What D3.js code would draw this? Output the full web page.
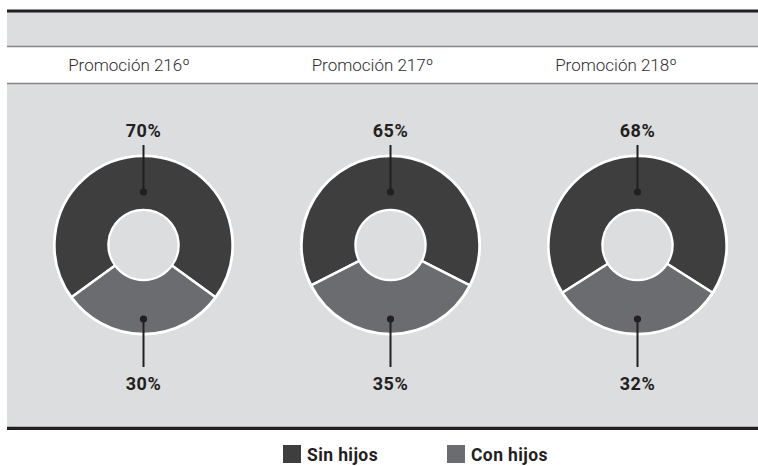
<!DOCTYPE html>
<html>
<head>
<meta charset="utf-8">
<script src="https://cdn.jsdelivr.net/npm/d3@7/dist/d3.min.js"></script>
<style>
  html, body { margin: 0; padding: 0; background: #ffffff; }
  svg { display: block; }
</style>
</head>
<body>
<svg id="chart" width="758" height="466"></svg>
<script>
// ---- data ----
const categories = ["Promoción 216º", "Promoción 217º", "Promoción 218º"];
const series = ["Sin hijos", "Con hijos"];
const sinHijos = [70, 65, 68];
const conHijos = [30, 35, 32];

// ---- styles ----
const colors = { "Sin hijos": "#3e3e3f", "Con hijos": "#6b6c70" };
const bg = "#dcdddf";
const ink = "#231f20";

const W = 758, H = 466;
const svg = d3.select("#chart");

const left = 7, right = W;
// bands
svg.append("rect").attr("x", left).attr("y", 12).attr("width", right - left).attr("height", 34).attr("fill", bg);
svg.append("rect").attr("x", left).attr("y", 84).attr("width", right - left).attr("height", 342).attr("fill", bg);
svg.append("line").attr("x1", left).attr("x2", right).attr("y1", 11).attr("y2", 11).attr("stroke", ink).attr("stroke-width", 3);
svg.append("line").attr("x1", left).attr("x2", right).attr("y1", 46.5).attr("y2", 46.5).attr("stroke", "#858585").attr("stroke-width", 1.5);
svg.append("line").attr("x1", left).attr("x2", right).attr("y1", 83.5).attr("y2", 83.5).attr("stroke", "#858585").attr("stroke-width", 1.5);
svg.append("line").attr("x1", left).attr("x2", right).attr("y1", 426.5).attr("y2", 426.5).attr("stroke", "#b0b0b0").attr("stroke-width", 1);
svg.append("line").attr("x1", left).attr("x2", right).attr("y1", 428.5).attr("y2", 428.5).attr("stroke", ink).attr("stroke-width", 3);

const x = d3.scalePoint().domain(categories).range([143.5, 637.5]);
const xHead = d3.scalePoint().domain(categories).range([129, 616]);
const cy = 245;
const rOuter = 89, rInner = 35;

// header labels
svg.selectAll("text.head").data(categories).join("text")
  .attr("class", "head")
  .attr("x", d => xHead(d))
  .attr("y", 71)
  .attr("text-anchor", "middle")
  .attr("font-family", "Roboto, sans-serif")
  .attr("font-weight", 300)
  .attr("font-size", 17)
  .attr("fill", "#2e2e2e")
  .text(d => d);

const arc = d3.arc().innerRadius(rInner).outerRadius(rOuter);

categories.forEach((c, i) => {
  const vals = [
    { key: "Sin hijos", value: sinHijos[i] },
    { key: "Con hijos", value: conHijos[i] }
  ];
  const frac = sinHijos[i] / (sinHijos[i] + conHijos[i]);
  const pie = d3.pie().sort(null).value(d => d.value)
    .startAngle(-frac * Math.PI).endAngle(2 * Math.PI - frac * Math.PI);
  const arcs = pie(vals);
  const g = svg.append("g").attr("transform", `translate(${x(c)},${cy})`);

  g.append("circle").attr("r", rOuter + 1.5).attr("fill", "#ffffff");
  g.selectAll("path").data(arcs).join("path")
    .attr("d", arc)
    .attr("fill", d => colors[d.data.key])
    .attr("stroke", "#ffffff")
    .attr("stroke-width", 2.5)
    .attr("stroke-linejoin", "round");
  g.append("circle").attr("r", rInner - 1).attr("fill", bg);

  const a0 = (arcs[0].startAngle + arcs[0].endAngle) / 2;
  const a1 = (arcs[1].startAngle + arcs[1].endAngle) / 2;
  const pt = (a, r) => [Math.sin(a) * r, -Math.cos(a) * r];
  const d0 = pt(a0, 53), d0e = pt(a0, 100);
  const d1 = pt(a1, 74), d1e = pt(a1, 122);

  g.append("line").attr("x1", d0[0]).attr("y1", d0[1]).attr("x2", d0e[0]).attr("y2", d0e[1])
    .attr("stroke", ink).attr("stroke-width", 2);
  g.append("circle").attr("cx", d0[0]).attr("cy", d0[1]).attr("r", 3.6).attr("fill", ink);
  g.append("line").attr("x1", d1[0]).attr("y1", d1[1]).attr("x2", d1e[0]).attr("y2", d1e[1])
    .attr("stroke", ink).attr("stroke-width", 2);
  g.append("circle").attr("cx", d1[0]).attr("cy", d1[1]).attr("r", 3.6).attr("fill", ink);

  const lab0 = pt(a0, 108), lab1 = pt(a1, 144.5);
  g.append("text").attr("x", lab0[0]).attr("y", lab0[1])
    .attr("text-anchor", "middle").attr("font-family", "Roboto, sans-serif")
    .attr("font-weight", 700).attr("font-size", 18).attr("fill", ink)
    .attr("letter-spacing", 0.5)
    .text(sinHijos[i] + "%");
  g.append("text").attr("x", lab1[0]).attr("y", lab1[1])
    .attr("text-anchor", "middle").attr("font-family", "Roboto, sans-serif")
    .attr("font-weight", 700).attr("font-size", 18).attr("fill", ink)
    .attr("letter-spacing", 0.5)
    .text(conHijos[i] + "%");
});

// legend
const legendX = d3.scalePoint().domain(series).range([283, 447]);
const lg = svg.selectAll("g.leg").data(series).join("g")
  .attr("class", "leg")
  .attr("transform", d => `translate(${legendX(d)},445)`);
lg.append("rect").attr("width", 18).attr("height", 18).attr("fill", d => colors[d]);
lg.append("text").attr("x", 24).attr("y", 16)
  .attr("font-family", "Roboto, sans-serif").attr("font-weight", 700)
  .attr("font-size", 17.5).attr("letter-spacing", 0.4).attr("fill", ink).text(d => d);
</script>
</body>
</html>
